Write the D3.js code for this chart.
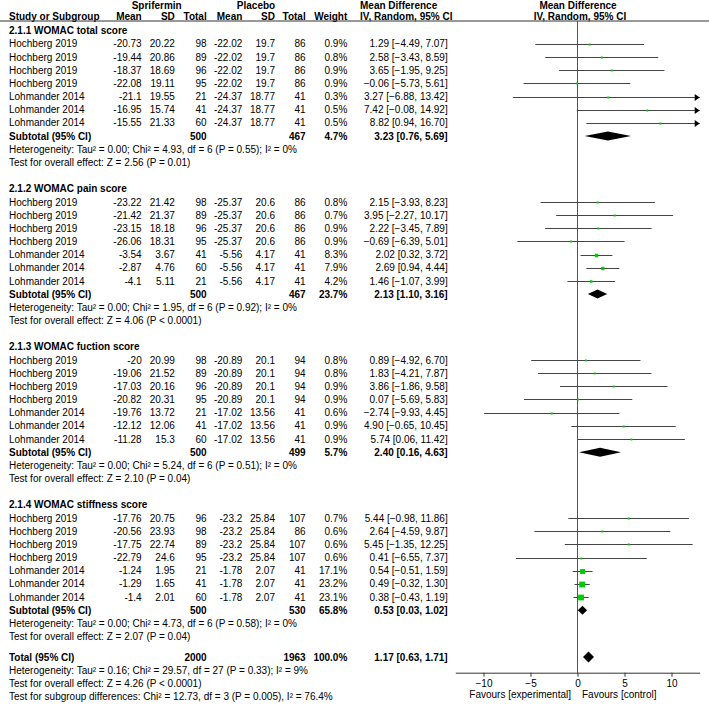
<!DOCTYPE html>
<html><head><meta charset="utf-8">
<script src="https://cdn.jsdelivr.net/npm/d3@7"></script>
<style>body{margin:0;background:#fff}svg{display:block;font-family:"Liberation Sans",Arial,sans-serif;font-size:10px}</style>
</head><body><svg id="c" width="709" height="708"></svg>
<script>
const subgroupNames = ["2.1.1 WOMAC total score","2.1.2 WOMAC pain score","2.1.3 WOMAC fuction score","2.1.4 WOMAC stiffness score"];
const studyNames = [
 ["Hochberg 2019","Hochberg 2019","Hochberg 2019","Hochberg 2019","Lohmander 2014","Lohmander 2014","Lohmander 2014"],
 ["Hochberg 2019","Hochberg 2019","Hochberg 2019","Hochberg 2019","Lohmander 2014","Lohmander 2014","Lohmander 2014"],
 ["Hochberg 2019","Hochberg 2019","Hochberg 2019","Hochberg 2019","Lohmander 2014","Lohmander 2014","Lohmander 2014"],
 ["Hochberg 2019","Hochberg 2019","Hochberg 2019","Hochberg 2019","Lohmander 2014","Lohmander 2014","Lohmander 2014"]];
const expMean = [[-20.73,-19.44,-18.37,-22.08,-21.1,-16.95,-15.55],[-23.22,-21.42,-23.15,-26.06,-3.54,-2.87,-4.1],[-20,-19.06,-17.03,-20.82,-19.76,-12.12,-11.28],[-17.76,-20.56,-17.75,-22.79,-1.24,-1.29,-1.4]];
const expSD = [[20.22,20.86,18.69,19.11,19.55,15.74,21.33],[21.42,21.37,18.18,18.31,3.67,4.76,5.11],[20.99,21.52,20.16,20.31,13.72,12.06,15.3],[20.75,23.93,22.74,24.6,1.95,1.65,2.01]];
const expN = [[98,89,96,95,21,41,60],[98,89,96,95,41,60,21],[98,89,96,95,21,41,60],[96,98,89,95,21,41,60]];
const ctlMean = [[-22.02,-22.02,-22.02,-22.02,-24.37,-24.37,-24.37],[-25.37,-25.37,-25.37,-25.37,-5.56,-5.56,-5.56],[-20.89,-20.89,-20.89,-20.89,-17.02,-17.02,-17.02],[-23.2,-23.2,-23.2,-23.2,-1.78,-1.78,-1.78]];
const ctlSD = [[19.7,19.7,19.7,19.7,18.77,18.77,18.77],[20.6,20.6,20.6,20.6,4.17,4.17,4.17],[20.1,20.1,20.1,20.1,13.56,13.56,13.56],[25.84,25.84,25.84,25.84,2.07,2.07,2.07]];
const ctlN = [[86,86,86,86,41,41,41],[86,86,86,86,41,41,41],[94,94,94,94,41,41,41],[107,86,107,107,41,41,41]];
const weights = [[0.9,0.8,0.9,0.9,0.3,0.5,0.5],[0.8,0.7,0.9,0.9,8.3,7.9,4.2],[0.8,0.8,0.9,0.9,0.6,0.9,0.9],[0.7,0.6,0.6,0.6,17.1,23.2,23.1]];
const md = [[1.29,2.58,3.65,-0.06,3.27,7.42,8.82],[2.15,3.95,2.22,-0.69,2.02,2.69,1.46],[0.89,1.83,3.86,0.07,-2.74,4.90,5.74],[5.44,2.64,5.45,0.41,0.54,0.49,0.38]];
const ciLow = [[-4.49,-3.43,-1.95,-5.73,-6.88,-0.08,0.94],[-3.93,-2.27,-3.45,-6.39,0.32,0.94,-1.07],[-4.92,-4.21,-1.86,-5.69,-9.93,-0.65,0.06],[-0.98,-4.59,-1.35,-6.55,-0.51,-0.32,-0.43]];
const ciHigh = [[7.07,8.59,9.25,5.61,13.42,14.92,16.70],[8.23,10.17,7.89,5.01,3.72,4.44,3.99],[6.70,7.87,9.58,5.83,4.45,10.45,11.42],[11.86,9.87,12.25,7.37,1.59,1.30,1.19]];
const subExpN = [500,500,500,500];
const subCtlN = [467,467,499,530];
const subWeight = [4.7,23.7,5.7,65.8];
const subMD = [3.23,2.13,2.40,0.53];
const subLow = [0.76,1.10,0.16,0.03];
const subHigh = [5.69,3.16,4.63,1.02];
const subHet = ["Heterogeneity: Tau² = 0.00; Chi² = 4.93, df = 6 (P = 0.55); I² = 0%","Heterogeneity: Tau² = 0.00; Chi² = 1.95, df = 6 (P = 0.92); I² = 0%","Heterogeneity: Tau² = 0.00; Chi² = 5.24, df = 6 (P = 0.51); I² = 0%","Heterogeneity: Tau² = 0.00; Chi² = 4.73, df = 6 (P = 0.58); I² = 0%"];
const subTest = ["Test for overall effect: Z = 2.56 (P = 0.01)","Test for overall effect: Z = 4.06 (P < 0.0001)","Test for overall effect: Z = 2.10 (P = 0.04)","Test for overall effect: Z = 2.07 (P = 0.04)"];
const totalExpN = 2000, totalCtlN = 1963, totalWeight = 100.0;
const totalMD = 1.17, totalLow = 0.63, totalHigh = 1.71;
const totalNotes = ["Heterogeneity: Tau² = 0.16; Chi² = 29.57, df = 27 (P = 0.33); I² = 9%","Test for overall effect: Z = 4.26 (P < 0.0001)","Test for subgroup differences: Chi² = 12.73, df = 3 (P = 0.005), I² = 76.4%"];
const axisTicks = [-10,-5,0,5,10];
const axisLabels = ["Favours [experimental]","Favours [control]"];

const svg = d3.select("#c");
const x = d3.scaleLinear().domain([-13,13]).range([455.3,699.7]);
const rowH = 13.17, y0 = 30.7;
const yc = i => y0 + i*rowH;
const f2 = d3.format(".2f");
const ciText = (m,l,h) => `${f2(m)} [${f2(l)}, ${f2(h)}]`;
const col = {study:9, eMean:141.7, eSD:174.8, eN:206.7, cMean:242.3, cSD:275, cN:305.7, w:347.3, md:447.7};

function txt(xp, yCenter, s, anchor="start", bold=false){
  svg.append("text").attr("x",xp).attr("y",yCenter+3.6).attr("text-anchor",anchor)
    .attr("font-weight",bold?"bold":null).attr("fill","#000").text(s);
}

// header
txt(156.7,5,"Sprifermin","middle",true);
txt(256,5,"Placebo","middle",true);
txt(360,5,"Mean Difference","start",true);
txt(578,5,"Mean Difference","middle",true);
const hy = 16.3;
txt(col.study,hy,"Study or Subgroup","start",true);
txt(col.eMean,hy,"Mean","end",true);
txt(col.eSD,hy,"SD","end",true);
txt(col.eN,hy,"Total","end",true);
txt(col.cMean,hy,"Mean","end",true);
txt(col.cSD,hy,"SD","end",true);
txt(col.cN,hy,"Total","end",true);
txt(col.w,hy,"Weight","end",true);
txt(360,hy,"IV, Random, 95% CI","start",true);
txt(580,hy,"IV, Random, 95% CI","middle",true);
svg.append("line").attr("x1",0).attr("x2",709).attr("y1",21).attr("y2",21).attr("stroke","#333").attr("stroke-width",1);

const axisY = 672.7;
// zero line
svg.append("line").attr("x1",x(0)).attr("x2",x(0)).attr("y1",21).attr("y2",axisY).attr("stroke","#555").attr("stroke-width",1);

function diamond(m,l,h,yy,hh){
  let xl = x(l), xr = x(h), xm = x(m);
  const minHalf = hh;
  if (xr - xl < 2*minHalf) { xl = xm - minHalf; xr = xm + minHalf; }
  svg.append("path").attr("d",`M${xl},${yy}L${xm},${yy-hh}L${xr},${yy}L${xm},${yy+hh}Z`).attr("fill","#000");
}

subgroupNames.forEach((name,k)=>{
  const s = 12*k;
  txt(col.study,yc(s),name,"start",true);
  studyNames[k].forEach((st,j)=>{
    const yy = yc(s+1+j);
    txt(col.study,yy,st);
    txt(col.eMean,yy,String(expMean[k][j]),"end");
    txt(col.eSD,yy,String(expSD[k][j]),"end");
    txt(col.eN,yy,String(expN[k][j]),"end");
    txt(col.cMean,yy,String(ctlMean[k][j]),"end");
    txt(col.cSD,yy,String(ctlSD[k][j]),"end");
    txt(col.cN,yy,String(ctlN[k][j]),"end");
    txt(col.w,yy,weights[k][j].toFixed(1)+"%","end");
    txt(col.md,yy,ciText(md[k][j],ciLow[k][j],ciHigh[k][j]),"end");
    const [d0,d1] = x.domain();
    const lo = Math.max(ciLow[k][j],d0), hi = Math.min(ciHigh[k][j],d1);
    const ly = Math.round(yy)+0.5;
    svg.append("line").attr("x1",x(lo)).attr("x2",x(hi)).attr("y1",ly).attr("y2",ly).attr("stroke","#444").attr("stroke-width",1);
    if (ciHigh[k][j] > d1) {
      const xe = x(d1);
      svg.append("path").attr("d",`M${xe},${ly}L${xe-5},${ly-3.5}L${xe-5},${ly+3.5}Z`).attr("fill","#000");
    }
    if (ciLow[k][j] < d0) {
      const xe = x(d0);
      svg.append("path").attr("d",`M${xe},${ly}L${xe+5},${ly-3.5}L${xe+5},${ly+3.5}Z`).attr("fill","#000");
    }
    const side = Math.max(2, 1.2*Math.sqrt(weights[k][j]));
    svg.append("rect").attr("x",x(md[k][j])-side/2).attr("y",ly-side/2).attr("width",side).attr("height",side).attr("fill","#00cc00");
  });
  const sy = yc(s+8);
  txt(col.study,sy,"Subtotal (95% CI)","start",true);
  txt(col.eN,sy,String(subExpN[k]),"end",true);
  txt(col.cN,sy,String(subCtlN[k]),"end",true);
  txt(col.w,sy,subWeight[k].toFixed(1)+"%","end",true);
  txt(col.md,sy,ciText(subMD[k],subLow[k],subHigh[k]),"end",true);
  diamond(subMD[k],subLow[k],subHigh[k],sy,4.5);
  txt(col.study,yc(s+9),subHet[k]);
  txt(col.study,yc(s+10),subTest[k]);
});

const ty = yc(47.55);
txt(col.study,ty,"Total (95% CI)","start",true);
txt(col.eN,ty,String(totalExpN),"end",true);
txt(col.cN,ty,String(totalCtlN),"end",true);
txt(col.w,ty,totalWeight.toFixed(1)+"%","end",true);
txt(col.md,ty,ciText(totalMD,totalLow,totalHigh),"end",true);
diamond(totalMD,totalLow,totalHigh,ty,5.5);
totalNotes.forEach((n,i)=>txt(col.study,yc(48.55+i),n));

// axis
const ax = svg.append("g").attr("transform",`translate(0,${axisY})`)
  .call(d3.axisBottom(x).tickValues(axisTicks).tickSize(4).tickSizeOuter(0).tickFormat(d3.format("d")));
ax.select(".domain").attr("stroke","#333");
ax.selectAll(".tick line").attr("stroke","#333");
ax.selectAll(".tick text").attr("font-size","10px").attr("font-family","'Liberation Sans',Arial,sans-serif").attr("fill","#000");
txt(571,694.5,axisLabels[0],"end");
txt(582,694.5,axisLabels[1],"start");
</script></body></html>
